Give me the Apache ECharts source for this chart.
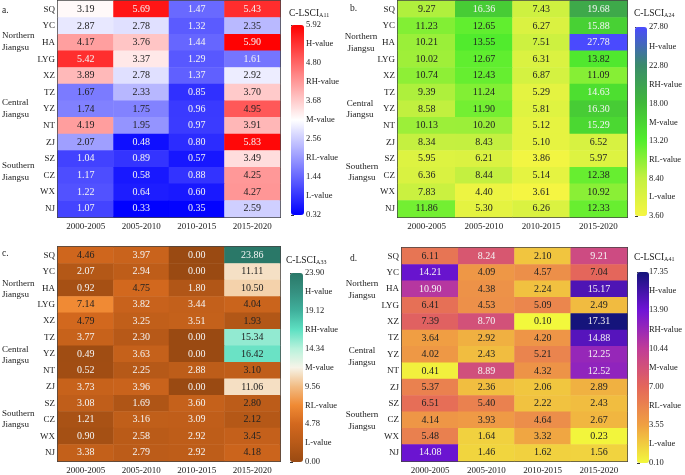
<!DOCTYPE html>
<html><head><meta charset="utf-8">
<script src="https://cdn.jsdelivr.net/npm/echarts@6/dist/echarts.min.js"></script>
<style>html,body{margin:0;padding:0;background:#fff}#c{width:685px;height:475px}</style>
</head><body><div id="c"></div>
<script>
const periods = ['2000-2005','2005-2010','2010-2015','2015-2020'];
const cities = ['SQ','YC','HA','LYG','XZ','TZ','YZ','NT','ZJ','SZ','CZ','WX','NJ'];
const levelNames = ['L-value','RL-value','M-value','RH-value','H-value'];

const a11 = [
 [3.19,5.69,1.47,5.43],[2.87,2.78,1.32,2.35],[4.17,3.76,1.44,5.90],[5.42,3.37,1.29,1.61],
 [3.89,2.78,1.37,2.92],[1.67,2.33,0.85,3.70],[1.74,1.75,0.96,4.95],[4.19,1.95,0.97,3.91],
 [2.07,0.48,0.80,5.83],[1.04,0.89,0.57,3.49],[1.17,0.58,0.88,4.25],[1.22,0.64,0.60,4.27],
 [1.07,0.33,0.35,2.59]];
const a24 = [
 [9.27,16.36,7.43,19.68],[11.23,12.65,6.27,15.88],[10.21,13.55,7.51,27.78],[10.02,12.67,6.31,13.82],
 [10.74,12.43,6.87,11.09],[9.39,11.24,5.29,14.63],[8.58,11.90,5.81,16.30],[10.13,10.20,5.12,15.29],
 [8.34,8.43,5.10,6.52],[5.95,6.21,3.86,5.97],[6.36,8.44,5.14,12.38],[7.83,4.40,3.61,10.92],
 [11.86,5.30,6.26,12.33]];
const a33 = [
 [4.46,3.97,0.00,23.86],[2.07,2.94,0.00,11.11],[0.92,4.75,1.80,10.50],[7.14,3.82,3.44,4.04],
 [4.79,3.25,3.51,1.93],[3.77,2.30,0.00,15.34],[0.49,3.63,0.00,16.42],[0.52,2.25,2.88,3.10],
 [3.73,3.96,0.00,11.06],[3.08,1.69,3.60,2.80],[1.21,3.16,3.09,2.12],[0.90,2.58,2.92,3.45],
 [3.38,2.79,2.92,4.18]];
const a41 = [
 [6.11,8.24,2.10,9.21],[14.21,4.09,4.57,7.04],[10.90,4.38,2.24,15.17],[6.41,4.53,5.09,2.49],
 [7.39,8.70,0.10,17.31],[3.64,2.92,4.20,14.88],[4.02,2.43,5.21,12.25],[0.41,8.89,4.32,12.52],
 [5.37,2.36,2.06,2.89],[6.51,5.40,2.22,2.43],[4.14,3.93,4.64,2.67],[5.48,1.64,3.32,0.23],
 [14.08,1.46,1.62,1.56]];

const ticksA11 = [0.32,1.44,2.56,3.68,4.80,5.92];
const ticksA24 = [3.60,8.40,13.20,18.00,22.80,27.80];
const ticksA33 = [0.00,4.78,9.56,14.34,19.12,23.90];
const ticksA41 = [0.10,3.55,7.00,10.44,13.90,17.35];

const FONT = '"Liberation Serif","DejaVu Serif",serif';

const panels = [
 {data:a11, ticks:ticksA11, sub:'A11', colors:['#0000ff','#ffffff','#ff0000'],
  white:(v,c)=>v<1.65||v>=5.4,
  grid:{left:58,top:1,width:222,height:216}, bar:{left:291,top:25,width:13,height:190},
  title:[289,13], letter:['a.',2,10], groups:[[2,41.5],[2,108.5],[2,171.5]], galign:'left'},
 {data:a24, ticks:ticksA24, sub:'A24', colors:['#f5f542','#c4f040','#52ee2c','#40b83a','#3a8a6c','#4a4aff'],
  white:(v,c)=>v>=14.5,
  grid:{left:398,top:1,width:229,height:216}, bar:{left:635,top:27,width:12,height:189},
  title:[634,13], letter:['b.',350,8], groups:[[361,42.5],[360,109],[362,172]], galign:'center'},
 {data:a33, ticks:ticksA33, sub:'A33', colors:['#9a4a12','#b85a18','#d2681e','#f08a34','#f2bc84','#f6f4e8','#b8f2dc','#5ee0c2','#40b09c','#359080','#2a7868'],
  white:(v,c)=>(v<4.2&&c<3)||v>20,
  grid:{left:58,top:247,width:222,height:216}, bar:{left:290,top:273,width:13,height:189},
  title:[286,260], letter:['c.',2,253], groups:[[2,289],[2,355],[2,419]], galign:'left'},
 {data:a41, ticks:ticksA41, sub:'A41', colors:['#f2f83c','#f0a042','#e4665a','#c03c98','#7014d6','#14147a'],
  white:(v,c)=>v>=8,
  grid:{left:402,top:248,width:225,height:215}, bar:{left:637,top:272,width:12,height:191},
  title:[634,257], letter:['d.',350,258], groups:[[362,289.5],[362,356.5],[362,420.5]], galign:'center'}
];
const groupNames = ['Northern\nJiangsu','Central\nJiangsu','Southern\nJiangsu'];

const grid=[], xAxis=[], yAxis=[], series=[], visualMap=[], graphic=[];
panels.forEach((p,i)=>{
  grid.push(Object.assign({show:true, borderColor:'#444', borderWidth:2, backgroundColor:'transparent'}, p.grid));
  xAxis.push({type:'category', gridIndex:i, data:periods, axisTick:{show:false}, axisLine:{show:false},
    axisLabel:{fontFamily:FONT, fontSize:9, color:'#222', margin:5}, splitArea:{show:false}});
  yAxis.push({type:'category', gridIndex:i, data:cities, inverse:true, axisTick:{show:false}, axisLine:{show:false},
    axisLabel:{fontFamily:FONT, fontSize:9, color:'#222', margin:3}});
  const data=[];
  p.data.forEach((row,r)=>row.forEach((v,c)=>{
    data.push({value:[c,r,v], label:{color: p.white(v,c)?'#f4f4f4':'#222222'}});
  }));
  series.push({type:'heatmap', xAxisIndex:i, yAxisIndex:i, data:data,
    label:{show:true, fontFamily:FONT, fontSize:10, formatter:(o)=>o.value[2].toFixed(2)},
    itemStyle:{borderWidth:0}, emphasis:{disabled:true}});
  const mn=p.ticks[0], mx=p.ticks[p.ticks.length-1];
  visualMap.push({type:'continuous', seriesIndex:i, min:mn, max:mx, inRange:{color:p.colors},
    left:p.bar.left, top:p.bar.top, itemWidth:p.bar.width, itemHeight:p.bar.height,
    text:null, calculable:false, padding:0, orient:'vertical', hoverLink:false});
});
// legend axes
panels.forEach((p,i)=>{
  const gi=4+i;
  grid.push(Object.assign({show:false}, p.bar));
  const mn=p.ticks[0], mx=p.ticks[p.ticks.length-1];
  const mids=[]; for(let k=0;k<p.ticks.length-1;k++) mids.push((p.ticks[k]+p.ticks[k+1])/2);
  xAxis.push({type:'value', gridIndex:gi, show:false});
  yAxis.push({type:'value', gridIndex:gi, min:mn, max:mx, position:'right',
    splitLine:{show:false}, axisLine:{show:false},
    axisTick:{show:true, length:3, customValues:p.ticks, lineStyle:{color:'#333', width:1}},
    axisLabel:{customValues:p.ticks.concat(mids), fontFamily:FONT, fontSize:8.5, color:'#222', margin:2,
      formatter:(val)=>{
        for(const t of p.ticks){ if(Math.abs(t-val)<1e-6) return t.toFixed(2); }
        for(let k=0;k<mids.length;k++){ if(Math.abs(mids[k]-val)<1e-6) return levelNames[k]; }
        return '';
      }}});
  graphic.push({type:'text', x:p.title[0], y:p.title[1], style:{
    text:'{m|C-LSCI}{s|'+p.sub+'}', verticalAlign:'middle',
    rich:{m:{fontFamily:FONT, fontSize:9.5, fill:'#222'}, s:{fontFamily:FONT, fontSize:6, fill:'#222', padding:[5,0,0,0]}}}});
  graphic.push({type:'text', x:p.letter[1], y:p.letter[2], style:{text:p.letter[0], fontFamily:FONT, fontSize:9.5, fill:'#222', verticalAlign:'middle'}});
  p.groups.forEach((g,k)=>{
    graphic.push({type:'text', x:g[0], y:g[1], style:{text:groupNames[k], fontFamily:FONT, fontSize:9, lineHeight:11.5,
      fill:'#222', align:p.galign, verticalAlign:'middle'}});
  });
});

const chart = echarts.init(document.getElementById('c'), null, {renderer:'canvas'});
chart.setOption({animation:false, backgroundColor:'#fff', grid, xAxis, yAxis, series, visualMap, graphic});
</script></body></html>
